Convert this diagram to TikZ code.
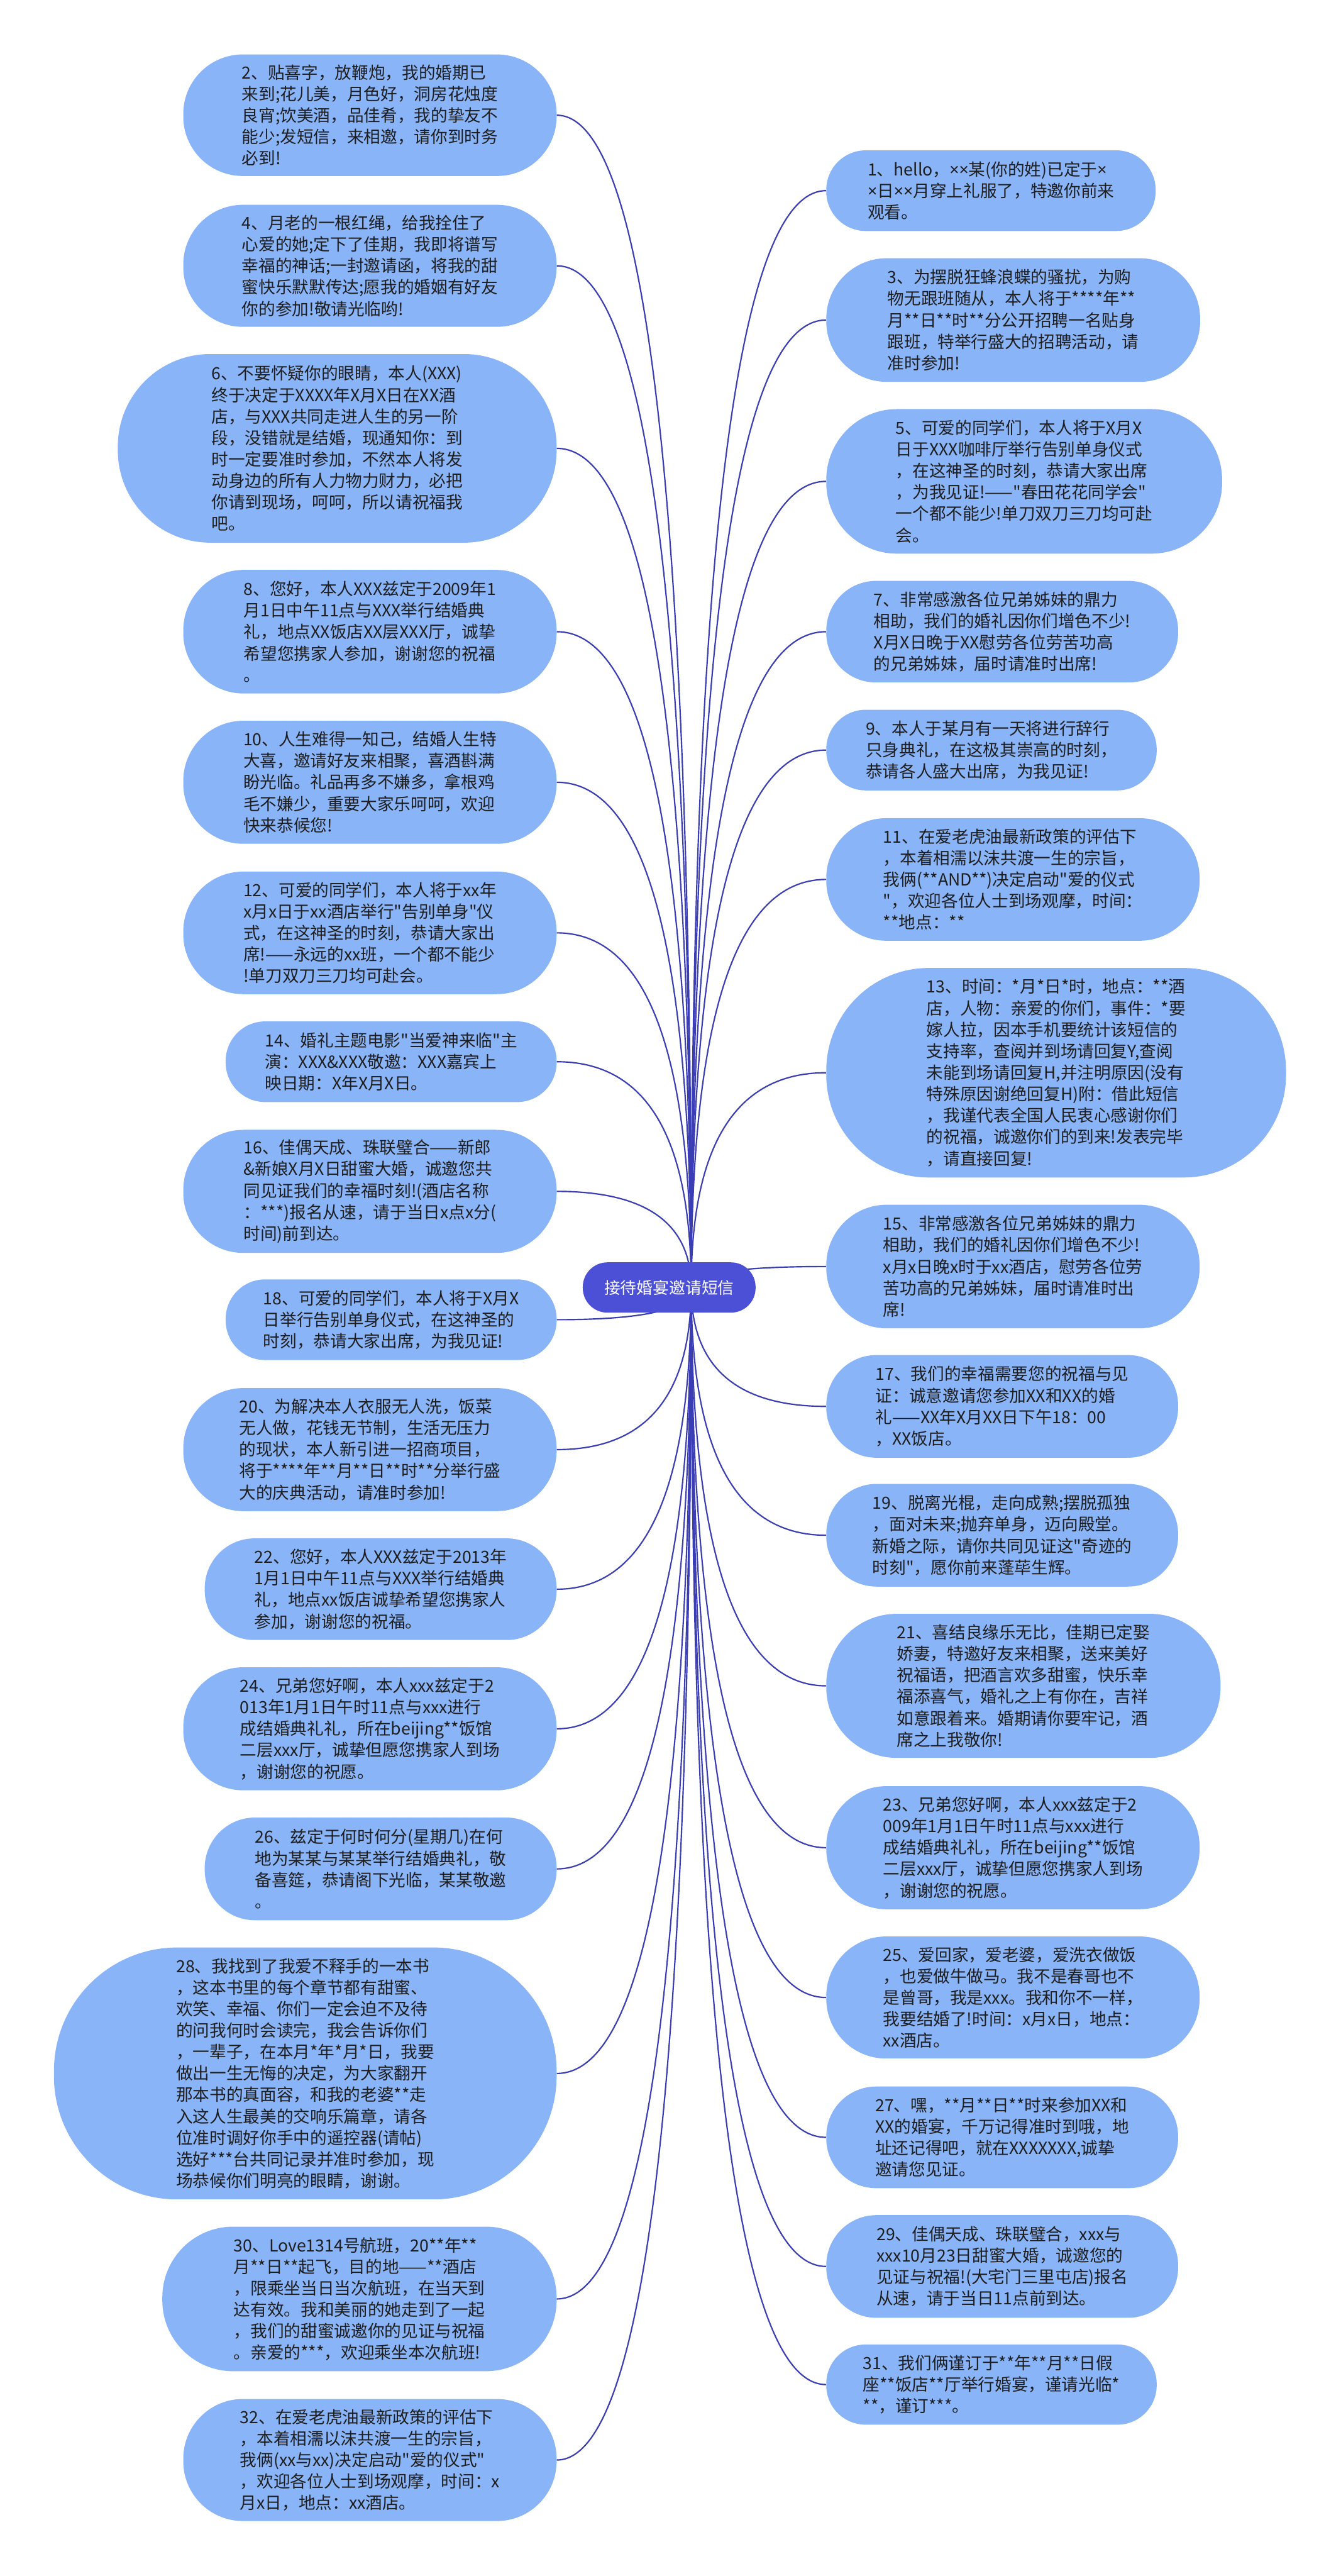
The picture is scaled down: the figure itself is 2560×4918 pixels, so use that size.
\documentclass[tikz,border=0pt]{standalone}
\usepackage{fontspec}
\newfontfamily\cjk{Noto Sans CJK SC}
\newfontfamily\latinf{Noto Sans}
\newcommand{\tms}{{\latinf ×}}
\usetikzlibrary{calc}
\definecolor{leaffill}{HTML}{8AB4F8}
\definecolor{rootfill}{HTML}{4B50D6}
\definecolor{linkcol}{HTML}{3A3DB3}
\definecolor{txtcol}{HTML}{1E1E1E}
\newcommand{\mmlink}[2]{\draw[link] (#1) .. controls ($(#1)!0.6667!(#1 |- #2)$) and ($(#2)!0.6667!(#1 |- #2)$) .. (#2);}
\begin{document}
\begin{tikzpicture}[x=0.5pt,y=-0.5pt,
  leaf/.style 2 args={draw=none, fill=leaffill, text=txtcol, align=left, inner sep=0pt,
    minimum width=#1*0.5pt, minimum height=#2*0.5pt, rounded corners=#2*0.245pt,
    font=\cjk\fontsize{16pt}{20.5pt}\selectfont},
  root/.style={draw=none, fill=rootfill, text=white, inner sep=0pt,
    minimum width=165pt, minimum height=48pt, rounded corners=23.5pt,
    font=\cjk\fontsize{15.5pt}{18pt}\selectfont},
  link/.style={draw=linkcol, line width=1.3pt}]
\fill[white] (0,0) rectangle (2560,4918);
\useasboundingbox (0,0) rectangle (2560,4918);
\coordinate (S) at (1320,2458);
% ---------------- left column ----------------
\node[leaf={713}{232}] (n2) at (706.5,220) {2、贴喜字，放鞭炮，我的婚期已\\来到;花儿美，月色好，洞房花烛度\\良宵;饮美酒，品佳肴，我的挚友不\\能少;发短信，来相邀，请你到时务\\必到!};
\node[leaf={713}{233}] (n4) at (706.5,507.5) {4、月老的一根红绳，给我拴住了\\心爱的她;定下了佳期，我即将谱写\\幸福的神话;一封邀请函，将我的甜\\蜜快乐默默传达;愿我的婚姻有好友\\你的参加!敬请光临哟!};
\node[leaf={838}{360}] (n6) at (644,856) {6、不要怀疑你的眼睛，本人(XXX)\\终于决定于XXXX年X月X日在XX酒\\店，与XXX共同走进人生的另一阶\\段，没错就是结婚，现通知你：到\\时一定要准时参加，不然本人将发\\动身边的所有人力物力财力，必把\\你请到现场，呵呵，所以请祝福我\\吧。};
\node[leaf={713}{236}] (n8) at (706.5,1206) {8、您好，本人XXX兹定于2009年1\\月1日中午11点与XXX举行结婚典\\礼，地点XX饭店XX层XXX厅，诚挚\\希望您携家人参加，谢谢您的祝福\\。};
\node[leaf={713}{235}] (n10) at (706.5,1493.5) {10、人生难得一知己，结婚人生特\\大喜，邀请好友来相聚，喜酒斟满\\盼光临。礼品再多不嫌多，拿根鸡\\毛不嫌少，重要大家乐呵呵，欢迎\\快来恭候您!};
\node[leaf={713}{234}] (n12) at (706.5,1781) {12、可爱的同学们，本人将于xx年\\x月x日于xx酒店举行"告别单身"仪\\式，在这神圣的时刻，恭请大家出\\席!——永远的xx班，一个都不能少\\!单刀双刀三刀均可赴会。};
\node[leaf={632}{154}] (n14) at (747,2027) {14、婚礼主题电影"当爱神来临"主\\演：XXX\&XXX敬邀：XXX嘉宾上\\映日期：X年X月X日。};
\node[leaf={713}{235}] (n16) at (706.5,2274.5) {16、佳偶天成、珠联璧合——新郎\\\&新娘X月X日甜蜜大婚，诚邀您共\\同见证我们的幸福时刻!(酒店名称\\：***)报名从速，请于当日x点x分(\\时间)前到达。};
\node[leaf={632}{154}] (n18) at (747,2519.5) {18、可爱的同学们，本人将于X月X\\日举行告别单身仪式，在这神圣的\\时刻，恭请大家出席，为我见证!};
\node[leaf={713}{235}] (n20) at (706.5,2767.5) {20、为解决本人衣服无人洗，饭菜\\无人做，花钱无节制，生活无压力\\的现状，本人新引进一招商项目，\\将于****年**月**日**时**分举行盛\\大的庆典活动，请准时参加!};
\node[leaf={672}{194}] (n22) at (727,3034) {22、您好，本人XXX兹定于2013年\\1月1日中午11点与XXX举行结婚典\\礼，地点xx饭店诚挚希望您携家人\\参加，谢谢您的祝福。};
\node[leaf={713}{235}] (n24) at (706.5,3300.5) {24、兄弟您好啊，本人xxx兹定于2\\013年1月1日午时11点与xxx进行\\成结婚典礼礼，所在beijing**饭馆\\二层xxx厅，诚挚但愿您携家人到场\\，谢谢您的祝愿。};
\node[leaf={672}{196}] (n26) at (727,3568) {26、兹定于何时何分(星期几)在何\\地为某某与某某举行结婚典礼，敬\\备喜筵，恭请阁下光临，某某敬邀\\。};
\node[leaf={960}{481}] (n28) at (583,3958.5) {28、我找到了我爱不释手的一本书\\，这本书里的每个章节都有甜蜜、\\欢笑、幸福、你们一定会迫不及待\\的问我何时会读完，我会告诉你们\\，一辈子，在本月*年*月*日，我要\\做出一生无悔的决定，为大家翻开\\那本书的真面容，和我的老婆**走\\入这人生最美的交响乐篇章，请各\\位准时调好你手中的遥控器(请帖)\\选好***台共同记录并准时参加，现\\场恭候你们明亮的眼睛，谢谢。};
\node[leaf={753}{276}] (n30) at (686.5,4389) {30、Love1314号航班，20**年**\\月**日**起飞，目的地——**酒店\\，限乘坐当日当次航班，在当天到\\达有效。我和美丽的她走到了一起\\，我们的甜蜜诚邀你的见证与祝福\\。亲爱的***，欢迎乘坐本次航班!};
\node[leaf={713}{233}] (n32) at (706.5,4696.5) {32、在爱老虎油最新政策的评估下\\，本着相濡以沫共渡一生的宗旨，\\我俩(xx与xx)决定启动"爱的仪式"\\，欢迎各位人士到场观摩，时间：x\\月x日，地点：xx酒店。};
% ---------------- right column ----------------
\node[leaf={629}{154}] (n1) at (1892.5,364) {1、hello，\tms\tms 某(你的姓)已定于\tms\\\tms 日\tms\tms 月穿上礼服了，特邀你前来\\观看。};
\node[leaf={714}{236}] (n3) at (1935,611) {3、为摆脱狂蜂浪蝶的骚扰，为购\\物无跟班随从，本人将于****年**\\月**日**时**分公开招聘一名贴身\\跟班，特举行盛大的招聘活动，请\\准时参加!};
\node[leaf={756}{276}] (n5) at (1956,919) {5、可爱的同学们，本人将于X月X\\日于XXX咖啡厅举行告别单身仪式\\，在这神圣的时刻，恭请大家出席\\，为我见证!——"春田花花同学会"\\一个都不能少!单刀双刀三刀均可赴\\会。};
\node[leaf={672}{194}] (n7) at (1914,1206) {7、非常感激各位兄弟姊妹的鼎力\\相助，我们的婚礼因你们增色不少!\\X月X日晚于XX慰劳各位劳苦功高\\的兄弟姊妹，届时请准时出席!};
\node[leaf={631}{154}] (n9) at (1893.5,1432) {9、本人于某月有一天将进行辞行\\只身典礼，在这极其崇高的时刻，\\恭请各人盛大出席，为我见证!};
\node[leaf={713}{234}] (n11) at (1934.5,1679) {11、在爱老虎油最新政策的评估下\\，本着相濡以沫共渡一生的宗旨，\\我俩(**AND**)决定启动"爱的仪式\\"，欢迎各位人士到场观摩，时间：\\**地点：**};
\node[leaf={878}{400}] (n13) at (2017,2048) {13、时间：*月*日*时，地点：**酒\\店，人物：亲爱的你们，事件：*要\\嫁人拉，因本手机要统计该短信的\\支持率，查阅并到场请回复Y,查阅\\未能到场请回复H,并注明原因(没有\\特殊原因谢绝回复H)附：借此短信\\，我谨代表全国人民衷心感谢你们\\的祝福，诚邀你们的到来!发表完毕\\，请直接回复!};
\node[leaf={713}{236}] (n15) at (1934.5,2418) {15、非常感激各位兄弟姊妹的鼎力\\相助，我们的婚礼因你们增色不少!\\x月x日晚x时于xx酒店，慰劳各位劳\\苦功高的兄弟姊妹，届时请准时出\\席!};
\node[leaf={672}{196}] (n17) at (1914,2685) {17、我们的幸福需要您的祝福与见\\证：诚意邀请您参加XX和XX的婚\\礼——XX年X月XX日下午18：00\\，XX饭店。};
\node[leaf={672}{196}] (n19) at (1914,2931) {19、脱离光棍，走向成熟;摆脱孤独\\，面对未来;抛弃单身，迈向殿堂。\\新婚之际，请你共同见证这"奇迹的\\时刻"，愿你前来蓬荜生辉。};
\node[leaf={753}{275}] (n21) at (1954.5,3218.5) {21、喜结良缘乐无比，佳期已定娶\\娇妻，特邀好友来相聚，送来美好\\祝福语，把酒言欢多甜蜜，快乐幸\\福添喜气，婚礼之上有你在，吉祥\\如意跟着来。婚期请你要牢记，酒\\席之上我敬你!};
\node[leaf={713}{235}] (n23) at (1934.5,3527.5) {23、兄弟您好啊，本人xxx兹定于2\\009年1月1日午时11点与xxx进行\\成结婚典礼礼，所在beijing**饭馆\\二层xxx厅，诚挚但愿您携家人到场\\，谢谢您的祝愿。};
\node[leaf={713}{233}] (n25) at (1934.5,3813.5) {25、爱回家，爱老婆，爱洗衣做饭\\，也爱做牛做马。我不是春哥也不\\是曾哥，我是xxx。我和你不一样，\\我要结婚了!时间：x月x日，地点：\\xx酒店。};
\node[leaf={672}{194}] (n27) at (1914,4080.5) {27、嘿，**月**日**时来参加XX和\\XX的婚宴，千万记得准时到哦，地\\址还记得吧，就在XXXXXXX,诚挚\\邀请您见证。};
\node[leaf={672}{196}] (n29) at (1914,4327) {29、佳偶天成、珠联璧合，xxx与\\xxx10月23日甜蜜大婚，诚邀您的\\见证与祝福!(大宅门三里屯店)报名\\从速，请于当日11点前到达。};
\node[leaf={631}{153}] (n31) at (1893.5,4552.5) {31、我们俩谨订于**年**月**日假\\座**饭店**厅举行婚宴，谨请光临*\\**，谨订***。};
% ---------------- connectors ----------------
\foreach \n in {n2,n4,n6,n8,n10,n12,n14,n16,n18,n20,n22,n24,n26,n28,n30,n32}{\mmlink{S}{\n.east}}
\foreach \n in {n1,n3,n5,n7,n9,n11,n13,n15,n17,n19,n21,n23,n25,n27,n29,n31}{\mmlink{S}{\n.west}}
% ---------------- root ----------------
\node[root] (root) at (1278,2458) {接待婚宴邀请短信};
\end{tikzpicture}
\end{document}
